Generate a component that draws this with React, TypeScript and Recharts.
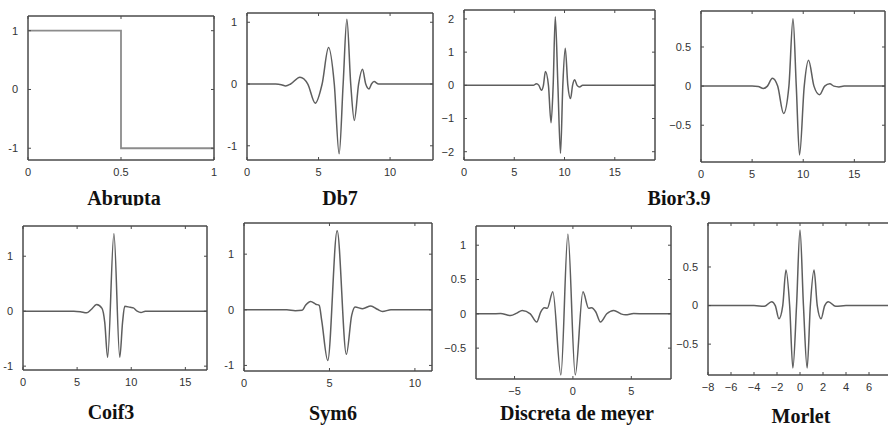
import { LineChart, Line, XAxis, YAxis, ReferenceArea } from 'recharts';

// Haar ("Abrupta")
const haarX = [0, 0.5, 0.5, 1];
const haarY = [1, 1, -1, -1];

// Db7
const db7X = [0, 1, 2, 2.4, 2.7, 3.05, 3.7, 4.25, 4.77, 5.25, 5.7, 6.1, 6.44, 6.72, 6.98, 7.25, 7.5, 7.8, 8.07, 8.3, 8.53, 8.7, 8.88, 9.2, 10, 13];
const db7Y = [0, 0, 0, -0.01, -0.03, 0, 0.11, 0, -0.31, 0, 0.59, 0, -1.13, 0, 1.05, 0, -0.59, 0, 0.24, 0, -0.08, 0, 0.04, 0, 0, 0];

// Bior3.9 (decomposition)
const bdX = [0, 6.5, 6.9, 7.2, 7.45, 7.7, 7.9, 8.1, 8.4, 8.66, 8.87, 9.08, 9.34, 9.6, 9.83, 10.07, 10.33, 10.6, 10.8, 11.0, 11.25, 11.5, 11.8, 12.2, 19];
const bdY = [0, 0, 0, 0.05, 0, -0.15, 0, 0.42, 0, -1.13, 0, 2.07, 0, -2.05, 0, 1.12, 0, -0.4, 0, 0.17, 0, -0.05, 0, 0, 0];

// Bior3.9 (reconstruction)
const brX = [0, 5, 5.6, 6.1, 6.5, 6.98, 7.5, 8.08, 8.6, 9.0, 9.32, 9.64, 10.1, 10.52, 11.05, 11.6, 12.1, 12.6, 13.0, 13.5, 14, 18];
const brY = [0, 0, -0.005, -0.03, 0, 0.1, 0, -0.35, 0, 0.86, 0, -0.88, 0, 0.33, 0, -0.11, 0, 0.03, 0, -0.01, 0, 0];

// Coif3
const coifX = [0, 4.7, 5.3, 5.88, 6.3, 6.8, 7.3, 7.55, 7.82, 8.4, 8.94, 9.2, 9.4, 9.9, 10.2, 10.55, 10.9, 11.3, 17];
const coifY = [0, 0, -0.01, -0.03, 0.03, 0.12, 0.05, -0.2, -0.84, 1.41, -0.84, -0.2, 0.09, 0.07, 0.06, 0, -0.025, 0, 0];

// Sym6
const symX = [0, 2.5, 3.0, 3.4, 3.6, 3.9, 4.2, 4.4, 4.55, 4.9, 5.45, 5.99, 6.3, 6.5, 6.94, 7.42, 7.8, 8.1, 8.6, 11];
const symY = [0, 0, -0.015, -0.01, 0.08, 0.15, 0.1, 0.08, -0.2, -0.91, 1.42, -0.8, -0.1, 0.05, 0.02, 0.07, 0.01, -0.03, 0, 0];

// Discreta de meyer
const dmeyX = [-8.3, -7, -6.2, -5.34, -4.8, -4.34, -3.65, -3.1, -2.75, -2.45, -2.2, -1.72, -1.03, -0.43, 0.2, 0.86, 1.35, 1.6, 1.95, 2.36, 2.9, 3.5, 4.1, 4.5, 5.2, 6.2, 8.4];
const dmeyY = [0, 0, 0.005, -0.025, 0.01, 0.05, 0, -0.12, 0.03, 0.09, 0.08, 0.32, -0.89, 1.16, -0.89, 0.32, 0.08, 0.09, 0.03, -0.12, 0, 0.05, 0, -0.015, 0.005, 0, 0];

// Morlet
const morX = [-8, -4, -3.1, -2.47, -2.15, -1.83, -1.5, -1.22, -0.9, -0.62, -0.3, 0, 0.3, 0.62, 0.9, 1.22, 1.5, 1.83, 2.15, 2.47, 3.1, 4, 8];
const morY = [0, 0, -0.01, 0.05, 0, -0.17, 0, 0.46, 0, -0.81, 0, 0.98, 0, -0.81, 0, 0.46, 0, -0.17, 0, 0.05, -0.01, 0, 0];

const panels = [
  { xs: haarX, ys: haarY, box: [28, 16, 186, 144], xd: [0, 1], yd: [-1.2, 1.25], xt: [0, 0.5, 1], yt: [-1, 0, 1], minus: '-', linear: true, color: '#8c8c8c' },
  { xs: db7X, ys: db7Y, box: [247, 13, 186, 147], xd: [0, 13], yd: [-1.23, 1.15], xt: [0, 5, 10], yt: [-1, 0, 1], minus: '-' },
  { xs: bdX, ys: bdY, box: [464, 10, 191, 150], xd: [0, 19], yd: [-2.25, 2.27], xt: [0, 5, 10, 15], yt: [-2, -1, 0, 1, 2], minus: '\u2212' },
  { xs: brX, ys: brY, box: [701, 11, 184, 151], xd: [0, 18], yd: [-0.97, 0.96], xt: [0, 5, 10, 15], yt: [-0.5, 0, 0.5], minus: '\u2212' },
  { xs: coifX, ys: coifY, box: [23, 226, 184, 144], xd: [0, 17], yd: [-1.07, 1.55], xt: [0, 5, 10, 15], yt: [-1, 0, 1], minus: '-' },
  { xs: symX, ys: symY, box: [244, 223, 188, 148], xd: [0, 11], yd: [-1.1, 1.56], xt: [0, 5, 10], yt: [-1, 0, 1], minus: '-' },
  { xs: dmeyX, ys: dmeyY, box: [476, 226, 195, 153], xd: [-8.3, 8.4], yd: [-0.95, 1.28], xt: [-5, 0, 5], yt: [-0.5, 0, 0.5, 1], minus: '\u2212' },
  { xs: morX, ys: morY, box: [708, 223, 184, 152], xd: [-8, 8], yd: [-0.9, 1.07], xt: [-8, -6, -4, -2, 0, 2, 4, 6], yt: [-0.5, 0, 0.5], minus: '\u2212' },
];

const titlesTop = [
  { text: 'Abrupta', x: 124, y: 205 },
  { text: 'Db7', x: 340, y: 205 },
  { text: 'Bior3.9', x: 679, y: 205 },
];
const titlesBottom = [
  { text: 'Coif3', x: 111, y: 419 },
  { text: 'Sym6', x: 333, y: 420 },
  { text: 'Discreta de meyer', x: 577, y: 420 },
  { text: 'Morlet', x: 801, y: 423 },
];

const ML = 40;
const MT = 6;
const MR = 6;
const XH = 26;
const axisColor = '#4a4a4a';
const tickStyle = { fill: '#333', fontSize: 11, fontFamily: 'Liberation Sans, Arial, sans-serif' };

function Panel({ p }: { p: any }) {
  const data = p.xs.map((x: number, i: number) => ({ x, y: p.ys[i] }));
  const fmt = (v: number) => String(v).replace('-', p.minus);
  const [left, top, w, h] = p.box;
  return (
    <div style={{ position: 'absolute', left: left - ML, top: top - MT }}>
      <LineChart width={w + ML + MR} height={h + MT + XH} data={data} margin={{ top: MT - 1, right: MR - 1, left: 0, bottom: 0 }}>
        <XAxis xAxisId="b" type="number" dataKey="x" domain={p.xd} ticks={p.xt} allowDataOverflow interval={0}
          height={XH} tickSize={-3} tickMargin={11} stroke={axisColor} tick={tickStyle} tickFormatter={fmt} />
        <XAxis xAxisId="t" orientation="top" type="number" dataKey="x" domain={p.xd} ticks={p.xt} allowDataOverflow interval={0}
          height={1} tickSize={-3} stroke={axisColor} tickFormatter={() => ''} />
        <YAxis yAxisId="l" type="number" domain={p.yd} ticks={p.yt} allowDataOverflow interval={0}
          width={ML} tickSize={-3} tickMargin={13} stroke={axisColor} tick={tickStyle} tickFormatter={fmt} />
        <YAxis yAxisId="r" orientation="right" type="number" domain={p.yd} ticks={p.yt} allowDataOverflow interval={0}
          width={1} tickSize={-3} stroke={axisColor} tickFormatter={() => ''} />
        <ReferenceArea xAxisId="b" yAxisId="l" x1={p.xd[0]} x2={p.xd[1]} y1={p.yd[0]} y2={p.yd[1]}
          fill="none" fillOpacity={0} stroke={axisColor} strokeWidth={1} ifOverflow="visible" />
        <Line xAxisId="b" yAxisId="l" dataKey="y" type={p.linear ? 'linear' : 'monotone'} dot={false}
          stroke={p.color || '#5e5e5e'} strokeWidth={p.linear ? 1.8 : 1.5} isAnimationActive={false} />
      </LineChart>
    </div>
  );
}

export default function App() {
  const titleStyle = { fontFamily: 'Liberation Serif, Times New Roman, serif', fontWeight: 700, fontSize: 20, fill: '#111' };
  return (
    <div style={{ position: 'absolute', left: 0, top: 0, width: 888, height: 428, overflow: 'hidden', background: '#fff' }}>
      {panels.map((p, i) => (
        <Panel key={i} p={p} />
      ))}
      <svg width={888} height={428} style={{ position: 'absolute', left: 0, top: 0, pointerEvents: 'none' }}>
        <defs>
          <clipPath id="rowTop">
            <rect x={0} y={0} width={888} height={205.5} />
          </clipPath>
        </defs>
        <g clipPath="url(#rowTop)">
          {titlesTop.map((t) => (
            <text key={t.text} x={t.x} y={t.y} textAnchor="middle" style={titleStyle}>{t.text}</text>
          ))}
        </g>
        {titlesBottom.map((t) => (
          <text key={t.text} x={t.x} y={t.y} textAnchor="middle" style={titleStyle}>{t.text}</text>
        ))}
      </svg>
    </div>
  );
}
